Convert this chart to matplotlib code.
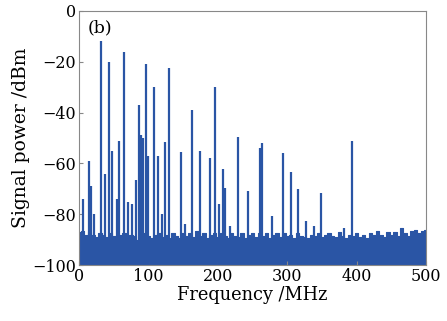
import numpy as np
import matplotlib.pyplot as plt

# spectral lines: frequency (MHz) and peak level (dBm)
peak_freq = [6, 14, 17, 22, 32, 38, 43, 47.5, 55, 58, 65, 71, 76, 81.5, 86, 89, 92,
             97, 99, 108, 113, 119, 124, 130, 146.5, 153, 163, 174, 189, 196.5,
             202, 207, 211, 218, 229, 244, 261, 263, 277.5, 294, 305, 316, 327,
             338, 349, 382, 393]
peak_level = [-74, -59, -69, -80, -12, -64, -20, -55, -74, -51, -16, -75, -76, -66.5,
              -37, -49, -50, -21, -57, -30, -57, -80, -51.5, -22.5, -55.5, -84, -39,
              -55, -58, -30, -76, -62, -69.5, -84.5, -49.5, -71, -54, -52, -80.5,
              -56, -63.5, -70, -82.5, -84.5, -71.5, -85.5, -51]

# noise floor, every 5 MHz from 0 to 500
floor_freq = np.arange(0, 505, 5)
floor_level = [-87, -86.5, -88, -87, -88, -89, -87.5, -88, -89, -87.5, -88.5,
               -90, -88, -87.5, -89.5, -88, -88.5, -90, -88, -87.5, -88.5,
               -89.5, -88, -87.5, -89, -88, -89.5, -87.5, -88.5, -89.5, -87.5,
               -88.5, -87.5, -89, -86.5, -88.5, -87.5, -89.5, -88, -87.5, -89,
               -87.5, -88.5, -89.5, -87.5, -88.5, -89, -87.5, -89.5, -88, -87.5,
               -89, -87.5, -88.5, -87.5, -89.5, -88, -87.5, -89, -87.5, -88.5,
               -88, -89.5, -87.5, -88.5, -89, -89.5, -88, -88.5, -87.5, -89,
               -88, -87.5, -88.5, -89, -87, -88.5, -89.5, -88, -88.5, -87.5,
               -89, -88, -89.5, -87.5, -88, -86.5, -88, -89, -87, -88,
               -87, -88.5, -85.5, -87.5, -88.5, -86.5, -86, -87.5, -86.5, -86]

blue = "#2a55a5"

plt.rcParams["font.family"] = "DejaVu Serif"

fig = plt.figure(figsize=(4.47, 3.21), dpi=100)
ax = fig.add_axes([0.177, 0.174, 0.776, 0.792])

ax.fill_between(floor_freq, -100, floor_level, step="mid", color=blue, lw=0.8, edgecolor=blue)
ax.vlines(peak_freq, -100, peak_level, color=blue, lw=1.6)

ax.set_xlim(0, 500)
ax.set_ylim(-100, 0)
ax.set_xticks(np.arange(0, 501, 100))
ax.set_yticks(np.arange(-100, 1, 20))
ax.set_yticklabels(["\u2212100", "\u221280", "\u221260", "\u221240", "\u221220", "0"])
ax.tick_params(direction="in", length=3, labelsize=11.5, color="#888888", pad=2)
for s in ax.spines.values():
    s.set_color("#888888")

ax.set_xlabel("Frequency /MHz", fontsize=12.8, labelpad=1)
ax.set_ylabel("Signal power /dBm", fontsize=13.5, labelpad=2)
ax.text(0.025, 0.965, "(b)", transform=ax.transAxes, fontsize=12.5, va="top")

fig.savefig("out.png", dpi=100)
